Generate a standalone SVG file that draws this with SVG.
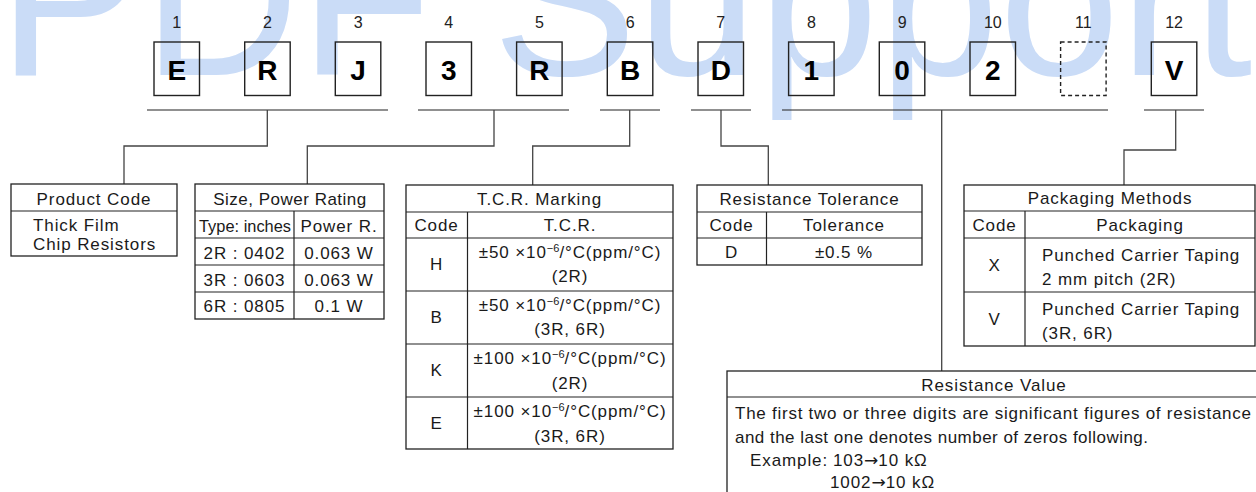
<svg xmlns="http://www.w3.org/2000/svg" width="1256" height="492" viewBox="0 0 1256 492">
<style>
  text { font-family: "Liberation Sans", Arial, sans-serif; fill: #1a1a1a; }
  .t { font-size: 17px; letter-spacing: 0.9px; }
  .c { text-anchor: middle; }
  .num { font-size: 16px; text-anchor: middle; fill: #222; }
  .big { font-size: 28px; font-weight: bold; text-anchor: middle; fill: #000; }
  .box { fill: none; stroke: #222; stroke-width: 1.4; }
  .dash { fill: none; stroke: #222; stroke-width: 1.4; stroke-dasharray: 4 3; }
  .tbl { fill: #fff; stroke: #222; stroke-width: 1.3; }
  .ln { stroke: #222; stroke-width: 1.2; fill: none; }
  .con { stroke: #444; stroke-width: 1.3; fill: none; }
  .wm { font-size: 217px; fill: #cadcf7; letter-spacing: 0; }
  .sup { font-size: 11px; letter-spacing: 0; }
  .arr { font-family: "DejaVu Sans", sans-serif; letter-spacing: 0; }
</style>
<rect width="1256" height="492" fill="#fff"/>
<text class="wm" x="-2" y="75">PDF Support</text>

<g id="code-positions">
  <g id="pos1"><text class="num" x="176.8" y="28">1</text><rect class="box" x="154" y="42" width="45.5" height="53.5"/><text class="big" x="176.8" y="80">E</text></g>
  <g id="pos2"><text class="num" x="267.4" y="28">2</text><rect class="box" x="244.7" y="42" width="45.5" height="53.5"/><text class="big" x="267.4" y="80">R</text></g>
  <g id="pos3"><text class="num" x="358.1" y="28">3</text><rect class="box" x="335.3" y="42" width="45.5" height="53.5"/><text class="big" x="358.1" y="80">J</text></g>
  <g id="pos4"><text class="num" x="448.8" y="28">4</text><rect class="box" x="426" y="42" width="45.5" height="53.5"/><text class="big" x="448.8" y="80">3</text></g>
  <g id="pos5"><text class="num" x="539.4" y="28">5</text><rect class="box" x="516.6" y="42" width="45.5" height="53.5"/><text class="big" x="539.4" y="80">R</text></g>
  <g id="pos6"><text class="num" x="630.1" y="28">6</text><rect class="box" x="607.3" y="42" width="45.5" height="53.5"/><text class="big" x="630.1" y="80">B</text></g>
  <g id="pos7"><text class="num" x="720.8" y="28">7</text><rect class="box" x="698" y="42" width="45.5" height="53.5"/><text class="big" x="720.8" y="80">D</text></g>
  <g id="pos8"><text class="num" x="811.4" y="28">8</text><rect class="box" x="788.6" y="42" width="45.5" height="53.5"/><text class="big" x="811.4" y="80">1</text></g>
  <g id="pos9"><text class="num" x="902.1" y="28">9</text><rect class="box" x="879.3" y="42" width="45.5" height="53.5"/><text class="big" x="902.1" y="80">0</text></g>
  <g id="pos10"><text class="num" x="992.8" y="28">10</text><rect class="box" x="970" y="42" width="45.5" height="53.5"/><text class="big" x="992.8" y="80">2</text></g>
  <g id="pos11"><text class="num" x="1083.4" y="28">11</text><rect class="dash" x="1060.6" y="42" width="45.5" height="53.5"/></g>
  <g id="pos12"><text class="num" x="1174.1" y="28">12</text><rect class="box" x="1151.3" y="42" width="45.5" height="53.5"/><text class="big" x="1174.1" y="80">V</text></g>
</g>

<g id="connectors">
  <line class="ln" x1="147" y1="110" x2="388" y2="110"/>
  <line class="ln" x1="418" y1="110" x2="569" y2="110"/>
  <line class="ln" x1="600" y1="110" x2="660" y2="110"/>
  <line class="ln" x1="691" y1="110" x2="751" y2="110"/>
  <line class="ln" x1="782" y1="110" x2="1108" y2="110"/>
  <line class="ln" x1="1144" y1="110" x2="1204" y2="110"/>
  <path class="con" d="M267.3,110 V146 H124 V184"/>
  <path class="con" d="M494,110 V146 H307.3 V184"/>
  <path class="con" d="M629.7,110 V146 H532.7 V185"/>
  <path class="con" d="M721,110 V146 H768.3 V185"/>
  <path class="con" d="M941.7,110 V371"/>
  <path class="con" d="M1175.7,110 V150 H1124 V185"/>
</g>

<g id="product-code">
  <rect class="tbl" x="11" y="184" width="166" height="72"/>
  <line class="ln" x1="11" y1="211" x2="177" y2="211"/>
  <text class="t c" x="94" y="205">Product Code</text>
  <text class="t" x="33" y="231">Thick Film</text>
  <text class="t" x="33" y="250">Chip Resistors</text>
</g>

<g id="size-power">
  <rect class="tbl" x="195" y="184" width="189" height="135"/>
  <line class="ln" x1="195" y1="211" x2="384" y2="211"/>
  <line class="ln" x1="195" y1="238" x2="384" y2="238"/>
  <line class="ln" x1="195" y1="265" x2="384" y2="265"/>
  <line class="ln" x1="195" y1="292" x2="384" y2="292"/>
  <line class="ln" x1="294" y1="211" x2="294" y2="319"/>
  <text class="t c" x="290" y="205" style="letter-spacing:0.5px">Size, Power Rating</text>
  <text class="t c" x="245" y="232" textLength="92" lengthAdjust="spacingAndGlyphs" style="letter-spacing:0">Type: inches</text>
  <text class="t c" x="339" y="232">Power R.</text>
  <text class="t c" x="244.5" y="259">2R : 0402</text>
  <text class="t c" x="339" y="259">0.063 W</text>
  <text class="t c" x="244.5" y="286">3R : 0603</text>
  <text class="t c" x="339" y="286">0.063 W</text>
  <text class="t c" x="244.5" y="312">6R : 0805</text>
  <text class="t c" x="339" y="312">0.1 W</text>
</g>

<g id="tcr-marking">
  <rect class="tbl" x="406" y="185" width="267" height="264"/>
  <line class="ln" x1="406" y1="212" x2="673" y2="212"/>
  <line class="ln" x1="406" y1="238" x2="673" y2="238"/>
  <line class="ln" x1="406" y1="291" x2="673" y2="291"/>
  <line class="ln" x1="406" y1="344" x2="673" y2="344"/>
  <line class="ln" x1="406" y1="397" x2="673" y2="397"/>
  <line class="ln" x1="467.5" y1="212" x2="467.5" y2="449"/>
  <text class="t c" x="539.5" y="205">T.C.R. Marking</text>
  <text class="t c" x="436.5" y="231">Code</text>
  <text class="t c" x="570" y="231">T.C.R.</text>
  <text class="t c" x="436.5" y="270">H</text>
  <text class="t c" x="570" y="258">±50 ×10<tspan class="sup" dy="-6">−6</tspan><tspan dy="6">/°C(ppm/°C)</tspan></text>
  <text class="t c" x="570" y="282">(2R)</text>
  <text class="t c" x="436.5" y="323">B</text>
  <text class="t c" x="570" y="311">±50 ×10<tspan class="sup" dy="-6">−6</tspan><tspan dy="6">/°C(ppm/°C)</tspan></text>
  <text class="t c" x="570" y="335">(3R, 6R)</text>
  <text class="t c" x="436.5" y="376">K</text>
  <text class="t c" x="570" y="364">±100 ×10<tspan class="sup" dy="-6">−6</tspan><tspan dy="6">/°C(ppm/°C)</tspan></text>
  <text class="t c" x="570" y="389">(2R)</text>
  <text class="t c" x="436.5" y="429">E</text>
  <text class="t c" x="570" y="417">±100 ×10<tspan class="sup" dy="-6">−6</tspan><tspan dy="6">/°C(ppm/°C)</tspan></text>
  <text class="t c" x="570" y="442">(3R, 6R)</text>
</g>

<g id="resistance-tolerance">
  <rect class="tbl" x="697" y="185" width="225" height="80"/>
  <line class="ln" x1="697" y1="212" x2="922" y2="212"/>
  <line class="ln" x1="697" y1="238" x2="922" y2="238"/>
  <line class="ln" x1="766.5" y1="212" x2="766.5" y2="265"/>
  <text class="t c" x="809.5" y="205">Resistance Tolerance</text>
  <text class="t c" x="731.5" y="231">Code</text>
  <text class="t c" x="844" y="231">Tolerance</text>
  <text class="t c" x="731.5" y="258">D</text>
  <text class="t c" x="844" y="258">±0.5 %</text>
</g>

<g id="packaging-methods">
  <rect class="tbl" x="964" y="185" width="291" height="161"/>
  <line class="ln" x1="964" y1="211" x2="1255" y2="211"/>
  <line class="ln" x1="964" y1="238" x2="1255" y2="238"/>
  <line class="ln" x1="964" y1="292" x2="1255" y2="292"/>
  <line class="ln" x1="1025" y1="211" x2="1025" y2="346"/>
  <text class="t c" x="1110" y="204">Packaging Methods</text>
  <text class="t c" x="994.5" y="231">Code</text>
  <text class="t c" x="1140" y="231">Packaging</text>
  <text class="t c" x="994.5" y="271">X</text>
  <text class="t" x="1042" y="261">Punched Carrier Taping</text>
  <text class="t" x="1042" y="285">2 mm pitch (2R)</text>
  <text class="t c" x="994.5" y="325">V</text>
  <text class="t" x="1042" y="315">Punched Carrier Taping</text>
  <text class="t" x="1042" y="339">(3R, 6R)</text>
</g>

<g id="resistance-value">
  <rect class="tbl" x="727" y="371" width="540" height="130"/>
  <line class="ln" x1="727" y1="397" x2="1267" y2="397"/>
  <text class="t c" x="994" y="391">Resistance Value</text>
  <text class="t" x="735" y="419" textLength="516" lengthAdjust="spacing" style="letter-spacing:0">The first two or three digits are significant figures of resistance</text>
  <text class="t" x="735" y="443" textLength="413" lengthAdjust="spacing" style="letter-spacing:0">and the last one denotes number of zeros following.</text>
  <text class="t" x="750" y="466">Example:<tspan x="833">103</tspan><tspan class="arr">→</tspan>10 kΩ</text>
  <text class="t" x="830" y="488">1002<tspan class="arr">→</tspan>10 kΩ</text>
</g>
</svg>
